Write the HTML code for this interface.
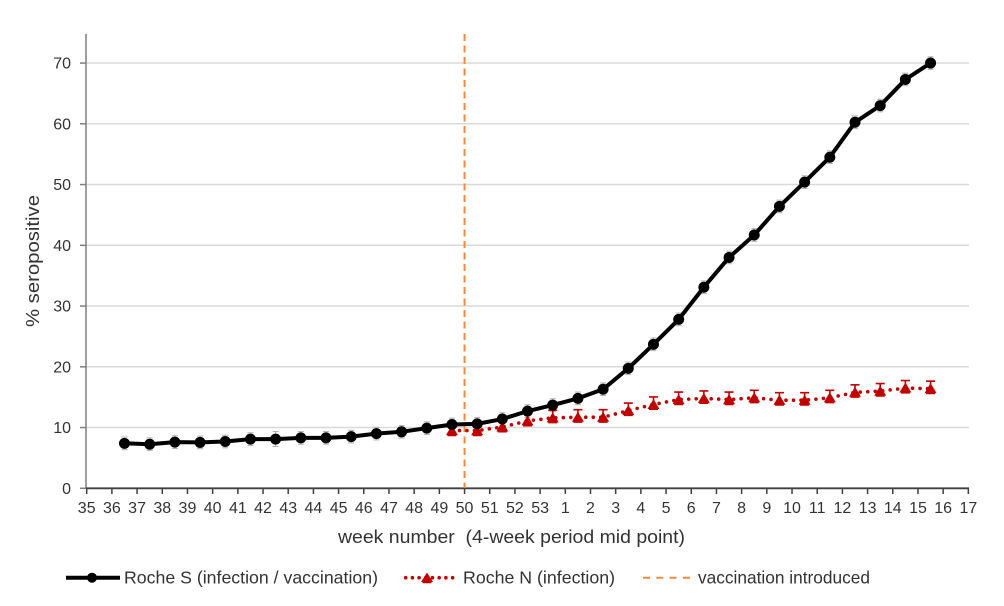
<!DOCTYPE html>
<html><head><meta charset="utf-8"><style>
html,body{margin:0;padding:0;background:#fff;}
svg{display:block;}
text{font-family:"Liberation Sans",Arial,sans-serif;fill:#333;}
</style></head><body>
<svg width="1004" height="606" viewBox="0 0 1004 606" xmlns="http://www.w3.org/2000/svg">
<defs>
<path id="tri" d="M0,-5.5 L6,4.5 L-6,4.5 Z" fill="#c00000"/>
<g id="rerr" stroke="#c00000" stroke-width="1.6" fill="none"><path d="M0,-7.5 V4.5 M-4.5,-7.5 H4.5 M-4.5,4.8 H4.5"/></g>
<g id="kerr" stroke="#b4b4b4" stroke-width="1.1" fill="none"><path d="M0,-6.3 V6.3 M-3,-6.3 H3 M-3,6.3 H3"/></g>
</defs>
<rect width="1004" height="606" fill="#fff"/>
<!-- gridlines -->
<g stroke="#d9d9d9" stroke-width="1.5">
<line x1="86" y1="427.55" x2="969" y2="427.55"/>
<line x1="86" y1="366.8" x2="969" y2="366.8"/>
<line x1="86" y1="306.05" x2="969" y2="306.05"/>
<line x1="86" y1="245.3" x2="969" y2="245.3"/>
<line x1="86" y1="184.55" x2="969" y2="184.55"/>
<line x1="86" y1="123.8" x2="969" y2="123.8"/>
<line x1="86" y1="63.05" x2="969" y2="63.05"/>
</g>
<!-- y axis -->
<line x1="86" y1="34" x2="86" y2="489" stroke="#7f7f7f" stroke-width="1.5"/>
<g stroke="#7f7f7f" stroke-width="1.5">
<line x1="80" y1="488.3" x2="86" y2="488.3"/>
<line x1="80" y1="427.55" x2="86" y2="427.55"/>
<line x1="80" y1="366.8" x2="86" y2="366.8"/>
<line x1="80" y1="306.05" x2="86" y2="306.05"/>
<line x1="80" y1="245.3" x2="86" y2="245.3"/>
<line x1="80" y1="184.55" x2="86" y2="184.55"/>
<line x1="80" y1="123.8" x2="86" y2="123.8"/>
<line x1="80" y1="63.05" x2="86" y2="63.05"/>
</g>
<g font-size="16" text-anchor="end">
<text x="71" y="494">0</text>
<text x="71" y="433.2">10</text>
<text x="71" y="372.4">20</text>
<text x="71" y="311.7">30</text>
<text x="71" y="250.9">40</text>
<text x="71" y="190.2">50</text>
<text x="71" y="129.4">60</text>
<text x="71" y="68.7">70</text>
</g>
<text transform="translate(39,261) rotate(-90)" font-size="18.5" text-anchor="middle" textLength="132" lengthAdjust="spacingAndGlyphs">% seropositive</text>
<!-- x axis -->
<line x1="86" y1="488.3" x2="969" y2="488.3" stroke="#404040" stroke-width="1.8"/>
<path stroke="#404040" stroke-width="1.5" d="M86.7,488 v6 M111.89,488 v6 M137.08,488 v6 M162.27,488 v6 M187.46,488 v6 M212.65,488 v6 M237.84,488 v6 M263.03,488 v6 M288.22,488 v6 M313.41,488 v6 M338.6,488 v6 M363.79,488 v6 M388.98,488 v6 M414.17,488 v6 M439.36,488 v6 M464.55,488 v6 M489.74,488 v6 M514.93,488 v6 M540.12,488 v6 M565.31,488 v6 M590.5,488 v6 M615.69,488 v6 M640.88,488 v6 M666.07,488 v6 M691.26,488 v6 M716.45,488 v6 M741.64,488 v6 M766.83,488 v6 M792.02,488 v6 M817.21,488 v6 M842.4,488 v6 M867.59,488 v6 M892.78,488 v6 M917.97,488 v6 M943.16,488 v6 M968.35,488 v6"/>
<g font-size="16" text-anchor="middle">
<text x="86.7" y="513">35</text><text x="111.89" y="513">36</text><text x="137.08" y="513">37</text><text x="162.27" y="513">38</text><text x="187.46" y="513">39</text><text x="212.65" y="513">40</text><text x="237.84" y="513">41</text><text x="263.03" y="513">42</text><text x="288.22" y="513">43</text><text x="313.41" y="513">44</text><text x="338.6" y="513">45</text><text x="363.79" y="513">46</text><text x="388.98" y="513">47</text><text x="414.17" y="513">48</text><text x="439.36" y="513">49</text><text x="464.55" y="513">50</text><text x="489.74" y="513">51</text><text x="514.93" y="513">52</text><text x="540.12" y="513">53</text><text x="565.31" y="513">1</text><text x="590.5" y="513">2</text><text x="615.69" y="513">3</text><text x="640.88" y="513">4</text><text x="666.07" y="513">5</text><text x="691.26" y="513">6</text><text x="716.45" y="513">7</text><text x="741.64" y="513">8</text><text x="766.83" y="513">9</text><text x="792.02" y="513">10</text><text x="817.21" y="513">11</text><text x="842.4" y="513">12</text><text x="867.59" y="513">13</text><text x="892.78" y="513">14</text><text x="917.97" y="513">15</text><text x="943.16" y="513">16</text><text x="968.35" y="513">17</text>
</g>
<text x="338" y="543" font-size="18.5" textLength="347" lengthAdjust="spacingAndGlyphs" xml:space="preserve">week number  (4-week period mid point)</text>
<!-- vaccination line -->
<line x1="464.55" y1="34" x2="464.55" y2="488" stroke="#f08a40" stroke-width="2" stroke-dasharray="7 4.5"/>
<!-- black error bars -->
<g>
<use href="#kerr" x="124.49" y="443.34"/><use href="#kerr" x="149.68" y="444.26"/><use href="#kerr" x="174.87" y="442.13"/><use href="#kerr" x="200.06" y="442.43"/><use href="#kerr" x="225.25" y="441.52"/><use href="#kerr" x="250.44" y="439.09"/>
<path d="M275.63,431.5 V446.5 M272.63,431.5 H278.63 M272.63,446.5 H278.63" stroke="#b4b4b4" stroke-width="1.1"/>
<use href="#kerr" x="300.82" y="437.88"/><use href="#kerr" x="326.01" y="437.88"/><use href="#kerr" x="351.2" y="436.66"/><use href="#kerr" x="376.39" y="433.62"/><use href="#kerr" x="401.58" y="431.8"/><use href="#kerr" x="426.77" y="428.16"/><use href="#kerr" x="451.96" y="424.51"/><use href="#kerr" x="477.15" y="423.9"/><use href="#kerr" x="502.34" y="419.04"/><use href="#kerr" x="527.53" y="411.15"/><use href="#kerr" x="552.72" y="405.07"/><use href="#kerr" x="577.91" y="398.39"/><use href="#kerr" x="603.1" y="389.28"/><use href="#kerr" x="628.29" y="368.32"/><use href="#kerr" x="653.48" y="344.32"/><use href="#kerr" x="678.67" y="319.41"/><use href="#kerr" x="703.86" y="287.22"/><use href="#kerr" x="729.05" y="257.45"/><use href="#kerr" x="754.24" y="234.97"/><use href="#kerr" x="779.43" y="206.42"/><use href="#kerr" x="804.62" y="182.12"/><use href="#kerr" x="829.81" y="157.21"/><use href="#kerr" x="855" y="122.28"/><use href="#kerr" x="880.19" y="105.57"/><use href="#kerr" x="905.38" y="79.45"/><use href="#kerr" x="930.57" y="63.05"/>
</g>
<!-- red series -->
<polyline fill="none" stroke="#c00000" stroke-width="3.6" stroke-linecap="round" stroke-dasharray="0 7.5" points="451.96,430.59 477.15,430.59 502.34,426.94 527.53,420.87 552.72,417.83 577.91,417.22 603.1,417.22 628.29,410.54 653.48,404.46 678.67,399.6 703.86,398.39 729.05,399.6 754.24,397.78 779.43,400.21 804.62,400.21 829.81,397.78 855,392.31 880.19,391.1 905.38,388.06 930.57,388.67"/>
<g>
<use href="#rerr" x="451.96" y="430.59"/><use href="#rerr" x="477.15" y="430.59"/><use href="#rerr" x="502.34" y="426.94"/><use href="#rerr" x="527.53" y="420.87"/><use href="#rerr" x="552.72" y="417.83"/><use href="#rerr" x="577.91" y="417.22"/><use href="#rerr" x="603.1" y="417.22"/><use href="#rerr" x="628.29" y="410.54"/><use href="#rerr" x="653.48" y="404.46"/><use href="#rerr" x="678.67" y="399.6"/><use href="#rerr" x="703.86" y="398.39"/><use href="#rerr" x="729.05" y="399.6"/><use href="#rerr" x="754.24" y="397.78"/><use href="#rerr" x="779.43" y="400.21"/><use href="#rerr" x="804.62" y="400.21"/><use href="#rerr" x="829.81" y="397.78"/><use href="#rerr" x="855" y="392.31"/><use href="#rerr" x="880.19" y="391.1"/><use href="#rerr" x="905.38" y="388.06"/><use href="#rerr" x="930.57" y="388.67"/>
<use href="#tri" x="451.96" y="430.59"/><use href="#tri" x="477.15" y="430.59"/><use href="#tri" x="502.34" y="426.94"/><use href="#tri" x="527.53" y="420.87"/><use href="#tri" x="552.72" y="417.83"/><use href="#tri" x="577.91" y="417.22"/><use href="#tri" x="603.1" y="417.22"/><use href="#tri" x="628.29" y="410.54"/><use href="#tri" x="653.48" y="404.46"/><use href="#tri" x="678.67" y="399.6"/><use href="#tri" x="703.86" y="398.39"/><use href="#tri" x="729.05" y="399.6"/><use href="#tri" x="754.24" y="397.78"/><use href="#tri" x="779.43" y="400.21"/><use href="#tri" x="804.62" y="400.21"/><use href="#tri" x="829.81" y="397.78"/><use href="#tri" x="855" y="392.31"/><use href="#tri" x="880.19" y="391.1"/><use href="#tri" x="905.38" y="388.06"/><use href="#tri" x="930.57" y="388.67"/>
</g>
<!-- black series -->
<polyline fill="none" stroke="#000" stroke-width="4" stroke-linejoin="round" points="124.49,443.34 149.68,444.26 174.87,442.13 200.06,442.43 225.25,441.52 250.44,439.09 275.63,439.09 300.82,437.88 326.01,437.88 351.2,436.66 376.39,433.62 401.58,431.8 426.77,428.16 451.96,424.51 477.15,423.9 502.34,419.04 527.53,411.15 552.72,405.07 577.91,398.39 603.1,389.28 628.29,368.32 653.48,344.32 678.67,319.41 703.86,287.22 729.05,257.45 754.24,234.97 779.43,206.42 804.62,182.12 829.81,157.21 855,122.28 880.19,105.57 905.38,79.45 930.57,63.05"/>
<g fill="#000">
<circle cx="124.49" cy="443.34" r="5.5"/><circle cx="149.68" cy="444.26" r="5.5"/><circle cx="174.87" cy="442.13" r="5.5"/><circle cx="200.06" cy="442.43" r="5.5"/><circle cx="225.25" cy="441.52" r="5.5"/><circle cx="250.44" cy="439.09" r="5.5"/><circle cx="275.63" cy="439.09" r="5.5"/><circle cx="300.82" cy="437.88" r="5.5"/><circle cx="326.01" cy="437.88" r="5.5"/><circle cx="351.2" cy="436.66" r="5.5"/><circle cx="376.39" cy="433.62" r="5.5"/><circle cx="401.58" cy="431.8" r="5.5"/><circle cx="426.77" cy="428.16" r="5.5"/><circle cx="451.96" cy="424.51" r="5.5"/><circle cx="477.15" cy="423.9" r="5.5"/><circle cx="502.34" cy="419.04" r="5.5"/><circle cx="527.53" cy="411.15" r="5.5"/><circle cx="552.72" cy="405.07" r="5.5"/><circle cx="577.91" cy="398.39" r="5.5"/><circle cx="603.1" cy="389.28" r="5.5"/><circle cx="628.29" cy="368.32" r="5.5"/><circle cx="653.48" cy="344.32" r="5.5"/><circle cx="678.67" cy="319.41" r="5.5"/><circle cx="703.86" cy="287.22" r="5.5"/><circle cx="729.05" cy="257.45" r="5.5"/><circle cx="754.24" cy="234.97" r="5.5"/><circle cx="779.43" cy="206.42" r="5.5"/><circle cx="804.62" cy="182.12" r="5.5"/><circle cx="829.81" cy="157.21" r="5.5"/><circle cx="855" cy="122.28" r="5.5"/><circle cx="880.19" cy="105.57" r="5.5"/><circle cx="905.38" cy="79.45" r="5.5"/><circle cx="930.57" cy="63.05" r="5.5"/>
</g>
<!-- legend -->
<line x1="66" y1="577.7" x2="120" y2="577.7" stroke="#000" stroke-width="4"/>
<circle cx="92" cy="577.7" r="5" fill="#000"/>
<text x="124" y="583.5" font-size="17.5" textLength="254" lengthAdjust="spacingAndGlyphs">Roche S (infection / vaccination)</text>
<line x1="405.7" y1="577.7" x2="454" y2="577.7" stroke="#c00000" stroke-width="3.6" stroke-linecap="round" stroke-dasharray="0 6.7"/>
<path d="M427,576.2 V582.5 M422.5,582.5 H431.5" stroke="#c00000" stroke-width="1.6"/>
<path d="M427,572.5 L433,582 L421,582 Z" fill="#c00000"/>
<text x="463" y="583.5" font-size="17.5" textLength="152" lengthAdjust="spacingAndGlyphs">Roche N (infection)</text>
<line x1="643" y1="577.7" x2="691" y2="577.7" stroke="#f08a40" stroke-width="2" stroke-dasharray="7 6.3"/>
<text x="698" y="583.5" font-size="17.5" textLength="172" lengthAdjust="spacingAndGlyphs">vaccination introduced</text>
</svg>
</body></html>
